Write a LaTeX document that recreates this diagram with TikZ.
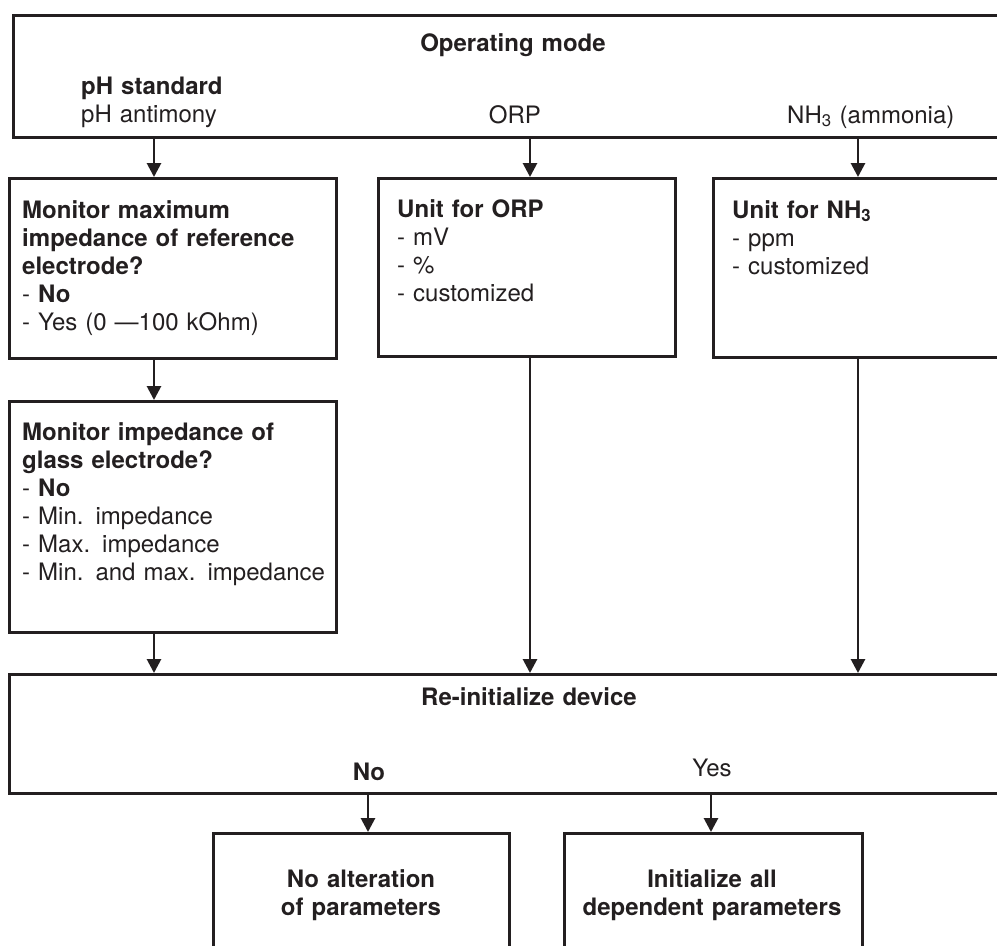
\documentclass[tikz,border=0pt]{standalone}
\usepackage{fontspec}
\setmainfont{TeX Gyre Heros}
\usepackage{xcolor}
\usepackage{tikz}
\usetikzlibrary{arrows.meta, positioning, calc}
\definecolor{ink}{HTML}{231F20}

\begin{document}
\begin{tikzpicture}[
    x=1pt, y=-1pt,
    stagebox/.style={rectangle, draw=ink, line width=2.8pt, inner sep=0pt, anchor=north west},
    txt/.style={inner sep=0pt, text=ink, font=\fontsize{24}{28}\selectfont},
    listtxt/.style={txt, anchor=base west, text width=310pt, align=left},
    midtxt/.style={txt, anchor=base, text width=300pt, align=center},
    arrow/.style={line width=2.8pt, draw=ink, -{Triangle[width=14pt,length=14pt]}}
]
    \clip (0,0) rectangle (997,946);

    % Lanes for the arrows
    \coordinate (laneA) at (154,0);
    \coordinate (laneB) at (530,0);
    \coordinate (laneC) at (858,0);
    \coordinate (laneNo) at (368,0);
    \coordinate (laneYes) at (711,0);

    % Operating mode
    \node (opmode) [stagebox, minimum width=1000pt, minimum height=122pt] at (12,14) {};
    \node (opmodetxt) [midtxt] at (513,51) {\textbf{Operating mode}};
    \node (phtxt) [listtxt] at (81,94) {\textbf{pH standard}\\pH antimony};
    \node (orptxt) [midtxt] at (515,123) {ORP};
    \node (nhtxt) [listtxt] at (787,123) {NH\textsubscript{3} (ammonia)};

    % pH branch
    \node (refmon) [stagebox, minimum width=327pt, minimum height=180pt] at (8,177) {};
    \node (refmontxt) [listtxt] at (22,218) {
        \textbf{Monitor maximum}\\
        \textbf{impedance of reference}\\
        \textbf{electrode?}\\
        - \textbf{No}\\
        - Yes (0 —100 kOhm)
    };
    \node (glassmon) [stagebox, minimum width=327pt, minimum height=231pt] at (8,400) {};
    \node (glassmontxt) [listtxt] at (22,440) {
        \textbf{Monitor impedance of}\\
        \textbf{glass electrode?}\\
        - \textbf{No}\\
        - Min. impedance\\
        - Max. impedance\\
        - Min. and max. impedance
    };

    % ORP branch
    \node (orpunit) [stagebox, minimum width=297pt, minimum height=178pt] at (377,177) {};
    \node (orpunittxt) [listtxt] at (397,217) {
        \textbf{Unit for ORP}\\
        - mV\\
        - \%\\
        - customized
    };

    % NH3 branch
    \node (nhunit) [stagebox, minimum width=300pt, minimum height=179pt] at (712,177) {};
    \node (nhunittxt) [listtxt] at (732,218) {
        \textbf{Unit for NH\textsubscript{3}}\\
        - ppm\\
        - customized
    };

    % Re-initialize device
    \node (reinit) [stagebox, minimum width=1004pt, minimum height=119pt] at (8,673) {};
    \node (reinittxt) [midtxt] at (529,705) {\textbf{Re-initialize device}};
    \node (notxt) [midtxt] at (369,780) {\textbf{No}};
    \node (yestxt) [midtxt] at (712,776) {Yes};

    % Results
    \node (noalt) [stagebox, minimum width=296pt, minimum height=200pt] at (212,832) {};
    \node (noalttxt) [midtxt] at (361,887) {\textbf{No alteration}\\\textbf{of parameters}};
    \node (initall) [stagebox, minimum width=298pt, minimum height=200pt] at (563,832) {};
    \node (initalltxt) [midtxt] at (712,887) {\textbf{Initialize all}\\\textbf{dependent parameters}};

    % Connecting Arrows
    \draw [arrow] (opmode.south -| laneA) -- (refmon.north -| laneA);
    \draw [arrow] (opmode.south -| laneB) -- (orpunit.north -| laneB);
    \draw [arrow] (opmode.south -| laneC) -- (nhunit.north -| laneC);
    \draw [arrow] (refmon.south -| laneA) -- (glassmon.north -| laneA);
    \draw [arrow] (glassmon.south -| laneA) -- (reinit.north -| laneA);
    \draw [arrow] (orpunit.south -| laneB) -- (reinit.north -| laneB);
    \draw [arrow] (nhunit.south -| laneC) -- (reinit.north -| laneC);
    \draw [arrow] (reinit.south -| laneNo) -- (noalt.north -| laneNo);
    \draw [arrow] (reinit.south -| laneYes) -- (initall.north -| laneYes);

\end{tikzpicture}
\end{document}
